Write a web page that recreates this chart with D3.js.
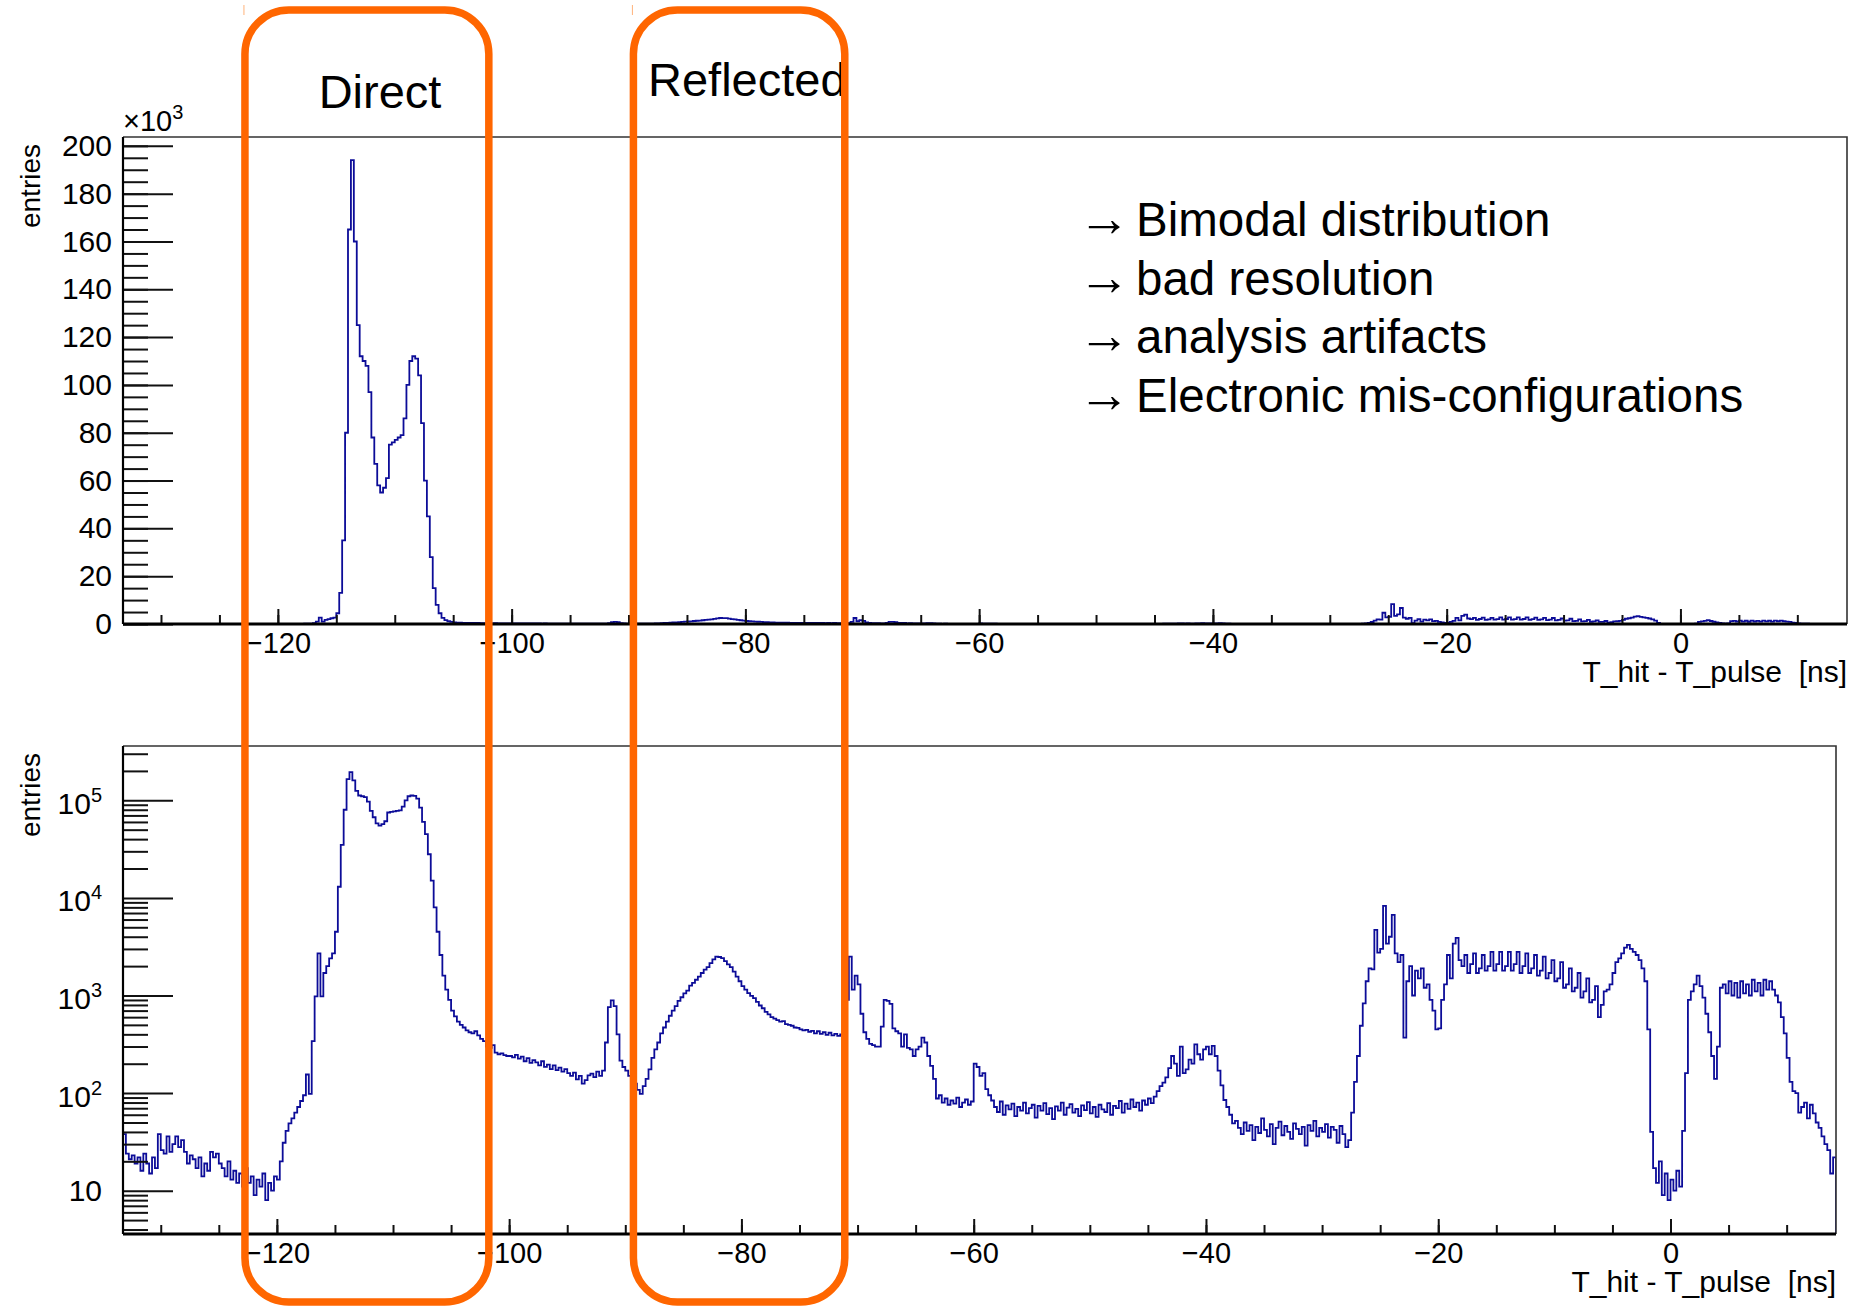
<!DOCTYPE html>
<html>
<head>
<meta charset="utf-8">
<script src="https://cdn.jsdelivr.net/npm/d3@7"></script>
<style>
  body { margin: 0; background: #fff; }
  svg text { font-family: "Liberation Sans", Arial, Helvetica, sans-serif; }
</style>
</head>
<body>
<div id="chart"></div>
<script>
// T_hit - T_pulse histogram, drawn linear (top) and log (bottom)

// bins of 0.25 ns starting at -133.25 ns, counts
const binLow = -133.25;
const binWidth = 0.25;

// -133.25 .. -120.25
const countsLeft = [
  38, 24, 21, 23, 19, 22, 16, 24, 19, 15, 22, 17, 38, 26, 24, 36, 25, 30, 36, 28,
  33, 25, 19, 23, 21, 17, 22, 14, 19, 16, 25, 22, 24, 19, 17, 14, 20, 13, 16, 12,
  15, 11, 17, 12, 14, 9, 13, 11, 15, 8, 12, 10, 14
];
// -120 .. -100.25 (direct peak)
const countsDirect = [
  13, 20, 31, 41, 49, 55, 63, 72, 83, 95, 155, 98, 340, 980, 2700, 980, 1700, 2000, 2400, 2700,
  4500, 13000, 35000, 80000, 165000, 194000, 160000, 125000, 112000, 110000,
  108000, 97000, 78000, 67000, 58000, 55000, 57000, 61000, 75000, 76000,
  77000, 78000, 79000, 86000, 100000, 110000, 112000, 111000, 104000, 84000,
  60000, 45000, 28000, 15000, 8000, 4500, 2600, 1600, 1150, 900,
  700, 610, 540, 500, 470, 440, 420, 410, 430, 390, 360, 340, 300, 290, 310, 260, 250, 255, 245, 240
];
// -100 .. -92.25
const countsGap = [
  240, 232, 246, 226, 236, 212, 228, 204, 218, 206, 192, 212, 186, 196, 176, 192,
  172, 182, 166, 176, 160, 150, 162, 138, 150, 125, 136, 152, 158, 146, 166, 150
];
// -92 .. -88.25
const countsSpike = [170, 330, 760, 890, 780, 400, 215, 185, 170, 150, 140, 125, 108, 98, 118, 140];
// -88 .. -71.25 (reflected bump)
const countsReflected = [
  175, 230, 280, 330, 410, 470, 540, 620, 700, 780, 880, 960, 1050, 1120, 1260, 1350,
  1450, 1560, 1700, 1840, 1950, 2150, 2350, 2500, 2480, 2420, 2250, 2080, 1950, 1760, 1560, 1400,
  1250, 1150, 1060, 990, 940, 860, 790, 740, 680, 640, 600, 580, 560, 540, 545, 510, 500, 490,
  470, 465, 450, 440, 445, 425, 435, 410, 430, 405, 420, 395, 415, 390, 405, 385, 400, 395
];
// -71 .. -58.25
const countsAfter = [
  900, 2500, 1150, 1600, 1300, 650, 420, 360, 320, 310, 300, 300, 480, 900, 880, 820,
  460, 430, 410, 300, 400, 290, 280, 240, 280, 300, 370, 330, 240, 190, 140, 88,
  95, 80, 88, 76, 84, 78, 90, 72, 80, 86, 76, 82, 200, 185, 150, 160, 110, 95, 84, 72
];
// -58 .. -44.75
const countsPlateau = [
  64, 82, 60, 75, 68, 78, 58, 72, 66, 80, 62, 70, 76, 56, 74, 66, 79, 61, 70, 54,
  73, 66, 80, 60, 71, 77, 63, 69, 58, 75, 67, 81, 62, 72, 57, 76, 68, 64, 79, 60,
  74, 70, 83, 63, 78, 69, 86, 72, 80, 66, 84, 76, 88, 79
];
// -44.5 .. -37.75
const countsForty = [
  92, 105, 118, 128, 145, 180, 240, 200, 150, 300, 160, 175, 220, 200, 315, 250,
  220, 280, 300, 250, 305, 240, 170, 120, 85, 72, 60, 49
];
// -37.5 .. -27.75
const countsQuiet = [
  52, 44, 38, 50, 41, 47, 33, 45, 39, 55, 42, 36, 48, 30, 44, 51, 37, 46, 40, 34,
  49, 43, 38, 45, 29, 47, 41, 52, 36, 44, 40, 48, 35, 45, 42, 31, 46, 38, 28, 33
];
// -27.5 .. -2.25
const countsLate = [
  63, 130, 240, 490, 830, 1400, 1900, 1850, 4700, 2750, 3000, 8300, 3400, 4000, 6700,
  2700, 2200, 2600, 370, 1400, 2000, 1000, 1800, 1500, 1900, 1200, 1300, 900, 700, 450,
  460, 900, 1300, 2600, 1500, 3400, 3900, 2300, 2000, 2600, 1700, 2100, 2700, 1700, 1900,
  2600, 1800, 2000, 2800, 1800, 2100, 2800, 1800, 2000, 2800, 1800, 2100, 2800, 1700, 2000,
  2700, 1700, 1900, 2600, 1600, 1800,
  2500, 1500, 1700, 2300, 1400, 1500, 2200, 1200, 1300, 1900, 1100, 1200, 1700, 950, 1100,
  1500, 850, 900, 1250, 600, 800, 1100, 1150, 1300, 1700, 2200, 2400, 2700, 3100, 3300,
  3000, 2800, 2600, 2300, 1900, 1400
];
// -2 .. 14
const countsTail = [
  450, 40, 17, 12, 20, 9, 15, 8, 13, 10, 16, 11,
  41, 160, 900, 1100, 1300, 1600, 1250, 950, 650, 420, 240, 140, 300, 1200, 1300, 1050,
  1400, 1000, 1350, 950, 1400, 1050, 1300, 1000, 1450, 1100, 1350, 1000, 1450, 1150,
  1400, 1150, 1000, 850, 600, 410, 230, 130, 105, 100, 63, 72, 80, 55, 76, 62, 50, 44,
  36, 30, 26, 15, 22
];

const counts = [].concat(countsLeft, countsDirect, countsGap, countsSpike, countsReflected,
  countsAfter, countsPlateau, countsForty, countsQuiet, countsLate, countsTail);

const xMajor = [-120, -100, -80, -60, -40, -20, 0];
const xMinor = d3.range(-130, 15, 5);
const yLinMajor = [0, 20, 40, 60, 80, 100, 120, 140, 160, 180, 200];
const yLinMinor = d3.range(0, 201, 5);
const logExponents = [1, 2, 3, 4, 5];
const xTitle = "T_hit - T_pulse  [ns]";
const yTitle = "entries";
const notes = ["Bimodal distribution", "bad resolution", "analysis artifacts", "Electronic mis-configurations"];
const regions = [
  { label: "Direct", from: -122.75, to: -101.75 },
  { label: "Reflected", from: -89.3, to: -71.1 }
];

const W = 1856, H = 1306;
const histColor = "#0c0c98";
const orange = "#ff6600";

const svg = d3.select("#chart").append("svg")
  .attr("width", W)
  .attr("height", H)
  .attr("viewBox", `0 0 ${W} ${H}`);

const xMax = binLow + counts.length * binWidth;

const panelTop = { left: 123, right: 1847, top: 137, bottom: 624 };
const panelBot = { left: 123, right: 1836, top: 746, bottom: 1234 };

const xTop = d3.scaleLinear().domain([binLow, xMax]).range([panelTop.left, panelTop.right]);
const xBot = d3.scaleLinear().domain([binLow, xMax]).range([panelBot.left, panelBot.right]);
// top axis is in units of 10^3 entries
const yLin = d3.scaleLinear().domain([0, 203.7]).range([panelTop.bottom, panelTop.top]);
const yLog = d3.scaleLog().domain([3.6, 3.6e5]).range([panelBot.bottom, panelBot.top]);

function histPath(x, yv, base) {
  const pts = counts.map((v, i) => [x(binLow + i * binWidth), yv(v)]);
  pts.push([x(xMax), yv(counts[counts.length - 1])]);
  pts.push([x(xMax), base]);
  return d3.line().curve(d3.curveStepAfter)(pts);
}

function cleanAxis(g, w) {
  g.select(".domain").remove();
  g.selectAll(".tick line").attr("stroke", "#111").attr("stroke-width", w);
  g.selectAll(".tick text")
    .attr("font-family", '"Liberation Sans", Arial, sans-serif')
    .attr("font-size", 29)
    .attr("fill", "#000");
}

function drawPanel(p, x, y, yv, yMinorTicks, yMajorTicks, clipId, labelPad, fmt) {
  const g = svg.append("g");

  svg.append("clipPath").attr("id", clipId)
    .append("rect")
    .attr("x", p.left).attr("y", p.top)
    .attr("width", p.right - p.left).attr("height", p.bottom - p.top);

  g.append("path")
    .attr("clip-path", `url(#${clipId})`)
    .attr("d", histPath(x, yv, p.bottom))
    .attr("fill", "none")
    .attr("stroke", histColor)
    .attr("stroke-width", 1.8)
    .attr("stroke-linejoin", "miter");

  // frame top and right
  g.append("path")
    .attr("d", `M${p.left},${p.top}H${p.right}V${p.bottom}`)
    .attr("fill", "none")
    .attr("stroke", "#333")
    .attr("stroke-width", 1.6);

  const xa = g.append("g").attr("transform", `translate(0,${p.bottom})`);
  xa.append("g").call(d3.axisBottom(x).tickValues(xMinor).tickSize(-9).tickSizeOuter(0).tickFormat(""))
    .call(s => cleanAxis(s, 2));
  xa.append("g").call(d3.axisBottom(x).tickValues(xMajor).tickSize(-15).tickSizeOuter(0).tickPadding(8))
    .call(s => cleanAxis(s, 2));

  const ya = g.append("g").attr("transform", `translate(${p.left},0)`);
  ya.append("g").call(d3.axisLeft(y).tickValues(yMinorTicks).tickSize(-25).tickSizeOuter(0).tickFormat(""))
    .call(s => cleanAxis(s, 2));
  const maj = ya.append("g").call(d3.axisLeft(y).tickValues(yMajorTicks).tickSize(-50).tickSizeOuter(0)
    .tickPadding(labelPad).tickFormat(fmt))
    .call(s => cleanAxis(s, 2));
  maj.selectAll(".tick text").attr("font-size", 30);

  // axis lines
  g.append("line")
    .attr("x1", p.left).attr("x2", p.right)
    .attr("y1", p.bottom).attr("y2", p.bottom)
    .attr("stroke", "#000").attr("stroke-width", 3);
  g.append("line")
    .attr("x1", p.left).attr("x2", p.left)
    .attr("y1", p.top).attr("y2", p.bottom)
    .attr("stroke", "#000").attr("stroke-width", 2.2);

  // axis titles
  g.append("text")
    .attr("x", p.right)
    .attr("y", p.bottom + 58)
    .attr("text-anchor", "end")
    .attr("font-size", 30)
    .style("white-space", "pre")
    .text(xTitle);

  g.append("text")
    .attr("transform", `translate(40,${p.top + 7}) rotate(-90)`)
    .attr("text-anchor", "end")
    .attr("font-size", 28)
    .text(yTitle);

  return maj;
}

// top panel, linear (x10^3)
drawPanel(panelTop, xTop, yLin, v => yLin(v / 1000), yLinMinor, yLinMajor, "clipTop", 11, d3.format("d"));

svg.append("text")
  .attr("x", panelTop.left)
  .attr("y", 131)
  .attr("font-size", 29)
  .text("\u00d710")
  .append("tspan")
  .attr("dy", -12)
  .attr("font-size", 20)
  .text("3");

// bottom panel, log
const logMinor = [];
for (let e = 0; e <= 5; e++) {
  for (let k = 2; k <= 9; k++) {
    const v = k * Math.pow(10, e);
    if (v >= 3.6 && v <= 3.6e5) logMinor.push(v);
  }
}
const logMajor = logExponents.map(e => Math.pow(10, e));
const bottomMajor = drawPanel(panelBot, xBot, yLog, v => yLog(v), logMinor, logMajor, "clipBot", 20, () => "");

bottomMajor.selectAll(".tick").each(function (d) {
  const e = Math.round(Math.log10(d));
  const t = d3.select(this).append("text")
    .attr("x", -21)
    .attr("y", e === 1 ? 10 : 13)
    .attr("text-anchor", "end")
    .attr("font-size", 30)
    .attr("fill", "#000")
    .text("10");
  if (e > 1) {
    t.append("tspan").attr("dy", -12).attr("font-size", 20).text(e);
  }
});

// notes
notes.forEach((n, i) => {
  svg.append("text")
    .attr("x", 1078).attr("y", 236 + i * 58.5)
    .attr("font-family", '"DejaVu Sans", sans-serif')
    .attr("font-size", 52)
    .text("\u2192");
  svg.append("text")
    .attr("x", 1136).attr("y", 236 + i * 58.5)
    .attr("font-size", 47.5)
    .text(n);
});

// region labels and boxes
svg.append("text").attr("x", 380).attr("y", 108)
  .attr("text-anchor", "middle").attr("font-size", 47).text(regions[0].label);
svg.append("text").attr("x", 648).attr("y", 96)
  .attr("font-size", 47).text(regions[1].label);

svg.selectAll("rect.region")
  .data(regions)
  .join("rect")
  .attr("class", "region")
  .attr("x", d => xBot(d.from))
  .attr("y", 10)
  .attr("width", d => xBot(d.to) - xBot(d.from))
  .attr("height", 1292)
  .attr("rx", 44)
  .attr("ry", 44)
  .attr("fill", "none")
  .attr("stroke", orange)
  .attr("stroke-width", 7.5);

svg.selectAll("line.mark")
  .data(regions)
  .join("line")
  .attr("class", "mark")
  .attr("x1", d => xBot(d.from) - 1).attr("x2", d => xBot(d.from) - 1)
  .attr("y1", 5).attr("y2", 15)
  .attr("stroke", "#ffb27a")
  .attr("stroke-width", 1);
</script>
</body>
</html>
